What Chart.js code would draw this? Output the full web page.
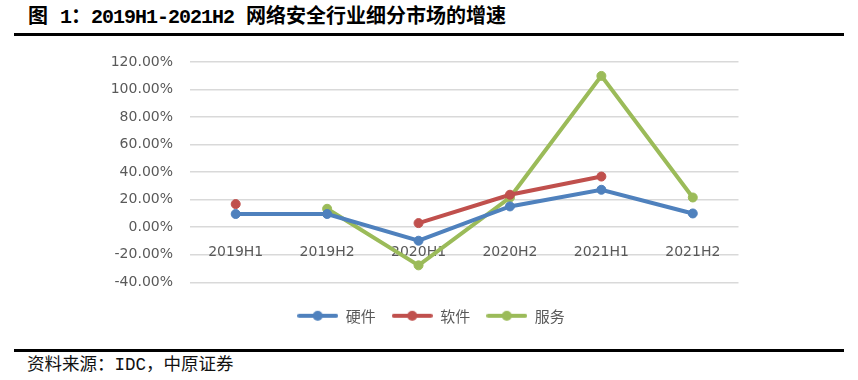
<!DOCTYPE html>
<html>
<head>
<meta charset="utf-8">
<script src="https://cdn.jsdelivr.net/npm/chart.js@4/dist/chart.umd.min.js"></script>
<style>
  html, body { margin: 0; padding: 0; background: #fff; }
  body { width: 858px; height: 380px; position: relative; overflow: hidden; }
  #title {
    position: absolute; left: 28px; top: 6px;
    font: bold 20px "Liberation Mono", "Noto Sans CJK SC", sans-serif;
    line-height: 24px; color: #000; white-space: nowrap;
  }
  #title .lat { letter-spacing: -1px; }
  .rule { position: absolute; left: 14px; width: 830px; background: #000; }
  #wrap { position: absolute; left: 0; top: 40px; width: 744px; height: 300px; }
  #source {
    position: absolute; left: 27px; top: 355px;
    font: 17.5px "Liberation Mono", "Noto Sans CJK SC", sans-serif;
    line-height: 21px; color: #111; white-space: nowrap;
  }
</style>
</head>
<body>
<div id="title">图 <span class="lat">1</span>：<span class="lat">2019H1-2021H2</span> 网络安全行业细分市场的增速</div>
<div class="rule" style="top:33px;height:3px"></div>
<div id="wrap"><canvas id="chart" width="744" height="300"></canvas></div>
<div class="rule" style="top:349px;height:3px"></div>
<div id="source">资料来源：IDC，中原证券</div>

<script>
// 数据（增速，%）
const categories = ["2019H1", "2019H2", "2020H1", "2020H2", "2021H1", "2021H2"];
const hardware = [9.6, 9.6, -9.8, 15.1, 27.2, 10.0];
const software = [16.8, null, 3.0, 23.6, 36.8, null];
const services = [null, 13.4, -27.7, 21.6, 109.9, 21.6];
const seriesNames = ["硬件", "软件", "服务"];
const seriesColors = ["#4F81BD", "#C0504D", "#9BBB59"];
const yTicks = [-40, -20, 0, 20, 40, 60, 80, 100, 120];

const TEXT = "#595959";
const GRID = "#D9D9D9";

// legend icon: short line with a dot in the middle
function legendIcon(color){
  const c = document.createElement("canvas");
  c.width = 41; c.height = 12;
  const g = c.getContext("2d");
  g.strokeStyle = color;
  g.lineWidth = 4;
  g.lineCap = "round";
  g.beginPath(); g.moveTo(2, 6); g.lineTo(39, 6); g.stroke();
  g.fillStyle = color;
  g.beginPath(); g.arc(20.5, 6, 5, 0, Math.PI * 2); g.fill();
  return c;
}
const icons = seriesColors.map(legendIcon);

// legend sits a bit right of the padded box centre in the original
const legendShift = {
  id: "legendShift",
  afterLayout(chart){
    chart.legend.left += 11;
    chart.legend.right += 11;
  }
};

// keep the plot area where the original has it
const noPad = (s) => { s.paddingTop = 0; s.paddingBottom = 0; s.paddingLeft = 0; s.paddingRight = 0; };

const makeSet = (i, data) => ({
  label: seriesNames[i],
  data: data,
  borderColor: seriesColors[i],
  backgroundColor: seriesColors[i],
  borderWidth: 4,
  pointRadius: 4.5,
  pointBorderWidth: 1,
  pointBackgroundColor: seriesColors[i],
  pointBorderColor: seriesColors[i],
  spanGaps: false,
  tension: 0
});

new Chart(document.getElementById("chart").getContext("2d"), {
  type: "line",
  data: {
    labels: categories,
    datasets: [makeSet(0, hardware), makeSet(1, software), makeSet(2, services)]
  },
  plugins: [legendShift],
  options: {
    responsive: false,
    animation: false,
    layout: { padding: { left: 96, right: 0, top: 22, bottom: 6.7 } },
    plugins: {
      tooltip: { enabled: false },
      legend: {
        position: "bottom",
        title: { display: true, text: "", font: { size: 10, lineHeight: 1 }, padding: 0 },
        labels: {
          usePointStyle: true,
          pointStyleWidth: 41,
          padding: 16,
          color: TEXT,
          font: { family: "'Noto Sans CJK SC', sans-serif", size: 15 },
          generateLabels(chart){
            const items = Chart.defaults.plugins.legend.labels.generateLabels(chart);
            return items.map((it, i) => Object.assign(it, { pointStyle: icons[i] }));
          }
        }
      }
    },
    scales: {
      x: {
        type: "category",
        position: { y: 0 },
        offset: true,
        afterFit: noPad,
        grid: { display: false, drawTicks: false },
        border: { display: false },
        ticks: {
          color: TEXT,
          padding: 17,
          font: { family: "'DejaVu Sans', sans-serif", size: 14 }
        }
      },
      y: {
        min: -40,
        max: 120,
        afterFit(scale){ scale.width = 94; noPad(scale); },
        afterBuildTicks(scale){ scale.ticks = yTicks.map(v => ({ value: v })); },
        grid: { color: GRID, lineWidth: 1.5, drawTicks: false },
        border: { display: false },
        ticks: {
          color: TEXT,
          padding: 17,
          font: { family: "'DejaVu Sans', sans-serif", size: 14 },
          callback: (v) => v.toFixed(2) + "%"
        }
      }
    }
  }
});
</script>
</body>
</html>
